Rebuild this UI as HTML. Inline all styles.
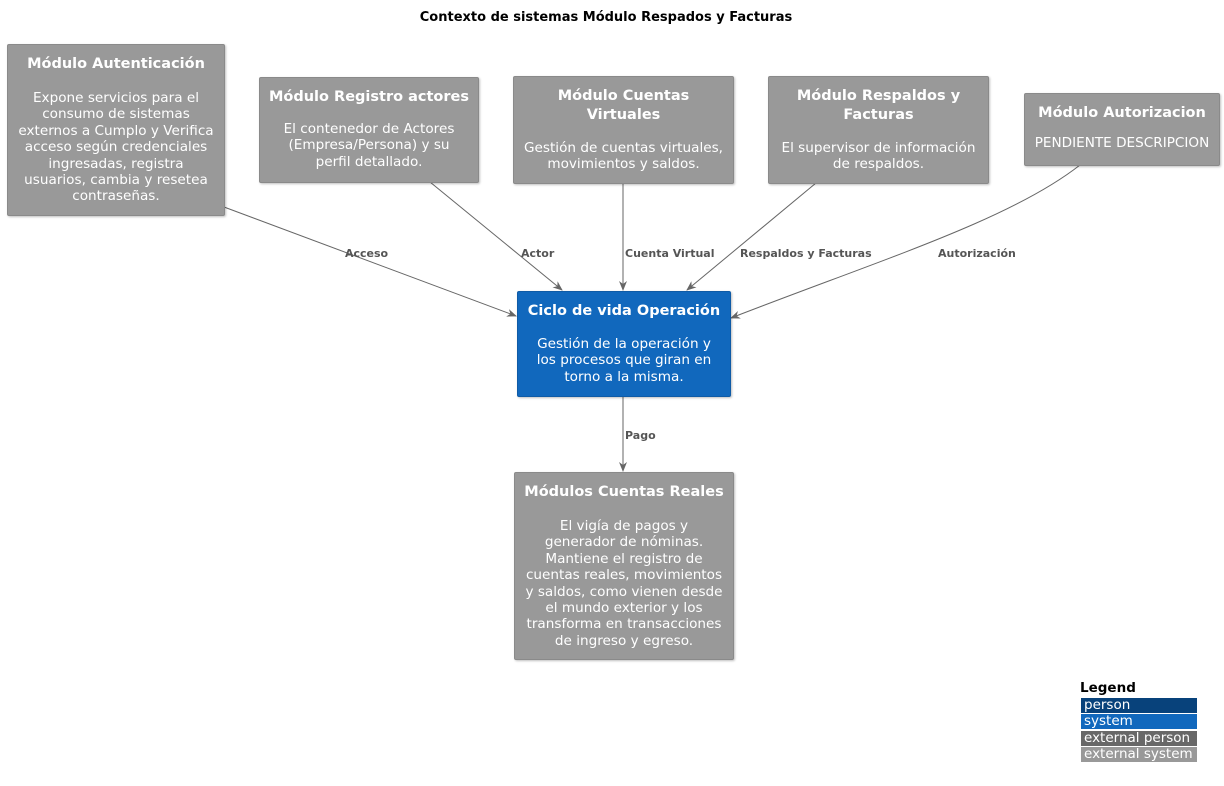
<!DOCTYPE html>
<html><head><meta charset="utf-8"><style>
body{margin:0;width:1224px;height:786px;background:#fff;position:relative;font-family:"DejaVu Sans",sans-serif;overflow:hidden}
.b{position:absolute;background:#999;border:1px solid #8a8a8a;border-radius:2px;color:#fff;text-align:center;box-sizing:border-box;box-shadow:1px 1px 2px rgba(0,0,0,.25)}
.b h{display:block;font-weight:bold;font-size:14.5px;line-height:19px;margin-top:10px;white-space:nowrap}
.b p{margin:15px 0 0;font-size:13.6px;line-height:16.4px;white-space:nowrap}
.l{position:absolute;font-weight:bold;font-size:11px;color:#555}
.t{position:absolute;top:10px;left:0;width:1212px;text-align:center;font-weight:bold;font-size:13px}
.lg{position:absolute;left:1081px;width:116px;height:15px;color:#fff;font-size:13.5px;line-height:15px;padding-left:3px;box-sizing:border-box;white-space:nowrap;overflow:hidden}
</style></head><body>
<div class="t">Contexto de sistemas Módulo Respados y Facturas</div>
<svg width="1224" height="786" style="position:absolute;left:0;top:0">
<defs><marker id="a" markerWidth="10" markerHeight="8" refX="9" refY="4" orient="auto" markerUnits="userSpaceOnUse"><path d="M0,0 L10,4 L0,8 L3,4z" fill="#666"/></marker></defs>
<g stroke="#666" fill="none" stroke-width="1">
<line x1="224" y1="207" x2="516" y2="316" marker-end="url(#a)"/>
<line x1="430" y1="182" x2="562" y2="290" marker-end="url(#a)"/>
<line x1="623" y1="183" x2="623" y2="290" marker-end="url(#a)"/>
<line x1="816" y1="183" x2="687" y2="290" marker-end="url(#a)"/>
<path d="M1080,165 C1010,220 880,260 731,318" marker-end="url(#a)"/>
<line x1="623" y1="396" x2="623" y2="471" marker-end="url(#a)"/>
</g></svg>
<div class="b" style="left:7px;top:44px;width:218px;height:172px"><h>Módulo Autenticación</h><p style="margin-top:16px">Expone servicios para el<br>consumo de sistemas<br>externos a Cumplo y Verifica<br>acceso según credenciales<br>ingresadas, registra<br>usuarios, cambia y resetea<br>contraseñas.</p></div>
<div class="b" style="left:259px;top:77px;width:220px;height:106px"><h>Módulo Registro actores</h><p style="margin-top:14px">El contenedor de Actores<br>(Empresa/Persona) y su<br>perfil detallado.</p></div>
<div class="b" style="left:513px;top:76px;width:221px;height:108px"><h>Módulo Cuentas<br>Virtuales</h><p style="margin-top:15px">Gestión de cuentas virtuales,<br>movimientos y saldos.</p></div>
<div class="b" style="left:768px;top:76px;width:221px;height:108px"><h>Módulo Respaldos y<br>Facturas</h><p style="margin-top:15px">El supervisor de información<br>de respaldos.</p></div>
<div class="b" style="left:1024px;top:93px;width:196px;height:73px"><h>Módulo Autorizacion</h><p style="margin-top:12px">PENDIENTE DESCRIPCION</p></div>
<div class="b" style="left:517px;top:291px;width:214px;height:106px;background:#1168bd;border-color:#0f5ba6"><h>Ciclo de vida Operación</h><p style="margin-top:15px">Gestión de la operación y<br>los procesos que giran en<br>torno a la misma.</p></div>
<div class="b" style="left:514px;top:472px;width:220px;height:188px"><h>Módulos Cuentas Reales</h><p style="margin-top:16px">El vigía de pagos y<br>generador de nóminas.<br>Mantiene el registro de<br>cuentas reales, movimientos<br>y saldos, como vienen desde<br>el mundo exterior y los<br>transforma en transacciones<br>de ingreso y egreso.</p></div>
<div class="l" style="left:345px;top:247px">Acceso</div>
<div class="l" style="left:521px;top:247px">Actor</div>
<div class="l" style="left:625px;top:247px">Cuenta Virtual</div>
<div class="l" style="left:740px;top:247px">Respaldos y Facturas</div>
<div class="l" style="left:938px;top:247px">Autorización</div>
<div class="l" style="left:625px;top:429px">Pago</div>
<div style="position:absolute;left:1080px;top:680px;font-weight:bold;font-size:13.5px">Legend</div>
<div class="lg" style="top:698px;background:#08427b">person</div>
<div class="lg" style="top:714px;background:#1168bd">system</div>
<div class="lg" style="top:731px;background:#686868">external person</div>
<div class="lg" style="top:747px;background:#999">external system</div>
</body></html>
